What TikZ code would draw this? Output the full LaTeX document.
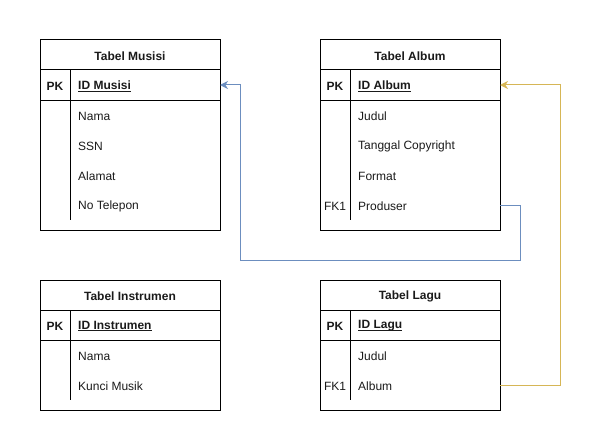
\documentclass[tikz,border=0pt]{standalone}
\usepackage{fontspec}
\setmainfont{Liberation Sans}
\usetikzlibrary{arrows.meta}
\definecolor{txtc}{HTML}{1A1A1A}
\definecolor{linkblue}{HTML}{6C8EBF}
\definecolor{linkgold}{HTML}{D6B656}
\newcommand\idul[1]{\underline{\smash{#1}}\vphantom{#1}}
\begin{document}
\begin{tikzpicture}[x=1pt,y=-1pt,
  tbl/.style={draw=black, line width=1pt, minimum width=180pt, anchor=north west, inner sep=0pt, outer sep=0pt},
  rowbox/.style={minimum width=180pt, minimum height=30pt, anchor=north west, inner sep=0pt, outer sep=0pt},
  title/.style={font=\fontsize{12}{14}\selectfont\bfseries, text=txtc, yshift=-1pt},
  keytxt/.style={font=\fontsize{12}{14}\selectfont, text=txtc, yshift=-1pt},
  pktxt/.style={keytxt, font=\fontsize{12}{14}\selectfont\bfseries},
  field/.style={font=\fontsize{12}{14}\selectfont, text=txtc, anchor=west, inner sep=0pt, yshift=-1pt},
  idfield/.style={field, font=\fontsize{12}{14}\selectfont\bfseries},
  sep/.style={draw=black, line width=1pt},
  link/.style={line width=1pt, -{Stealth[length=8pt,width=8pt,inset=2.5pt]}}
]
\useasboundingbox (0,0) rectangle (601,441);
% ---------- Tabel Musisi ----------
\node[tbl, minimum height=190pt] (musisi) at (40,40) {};
\node[title] (musisiT) at (130,55) {Tabel Musisi};
\node[rowbox] (musisiPK) at (40,70) {};
\draw[sep] (40,70) -- (220,70);
\draw[sep] (40,100) -- (220,100);
\draw[sep] (70,70) -- (70,220);
\node[pktxt] (musisiPKl) at (55,85) {PK};
\node[idfield] (musisiID) at (78,85) {\idul{ID Musisi}};
\node[field] (musisiF1) at (78,115) {Nama};
\node[field] (musisiF2) at (78,145) {SSN};
\node[field] (musisiF3) at (78,175) {Alamat};
\node[field] (musisiF4) at (78,205) {No Telepon};
% ---------- Tabel Album ----------
\node[tbl, minimum height=190pt] (album) at (320,40) {};
\node[title] (albumT) at (410,55) {Tabel Album};
\node[rowbox] (albumPK) at (320,70) {};
\draw[sep] (320,70) -- (500,70);
\draw[sep] (320,100) -- (500,100);
\draw[sep] (350,70) -- (350,220);
\node[pktxt] (albumPKl) at (335,85) {PK};
\node[idfield] (albumID) at (358,85) {\idul{ID Album}};
\node[field] (albumF1) at (358,115) {Judul};
\node[field] (albumF2) at (358,145) {Tanggal Copyright};
\node[field] (albumF3) at (358,175) {Format};
\node[rowbox] (albumProd) at (320,190) {};
\node[keytxt] (albumFKl) at (335,205) {FK1};
\node[field] (albumF4) at (358,205) {Produser};
% ---------- Tabel Instrumen ----------
\node[tbl, minimum height=130pt] (instr) at (40,280) {};
\node[title] (instrT) at (130,295) {Tabel Instrumen};
\draw[sep] (40,310) -- (220,310);
\draw[sep] (40,340) -- (220,340);
\draw[sep] (70,310) -- (70,400);
\node[pktxt] (instrPKl) at (55,325) {PK};
\node[idfield] (instrID) at (78,325) {\idul{ID Instrumen}};
\node[field] (instrF1) at (78,355) {Nama};
\node[field] (instrF2) at (78,385) {Kunci Musik};
% ---------- Tabel Lagu ----------
\node[tbl, minimum height=130pt] (lagu) at (320,280) {};
\node[title] (laguT) at (410,295) {Tabel Lagu};
\draw[sep] (320,310) -- (500,310);
\draw[sep] (320,340) -- (500,340);
\draw[sep] (350,310) -- (350,400);
\node[pktxt] (laguPKl) at (335,325) {PK};
\node[idfield] (laguID) at (358,325) {\idul{ID Lagu}};
\node[field] (laguF1) at (358,355) {Judul};
\node[rowbox] (laguAlbum) at (320,370) {};
\node[keytxt] (laguFKl) at (335,385) {FK1};
\node[field] (laguF2) at (358,385) {Album};
% ---------- connectors ----------
\coordinate (b1) at (520,260);
\coordinate (b2) at (240,260);
\draw[link, linkblue] (albumProd.east) -| (b1) -- (b2) |- (musisiPK.east);
\coordinate (g1) at (560,385);
\draw[link, linkgold] (laguAlbum.east) -- (g1) |- (albumPK.east);
\end{tikzpicture}
\end{document}
